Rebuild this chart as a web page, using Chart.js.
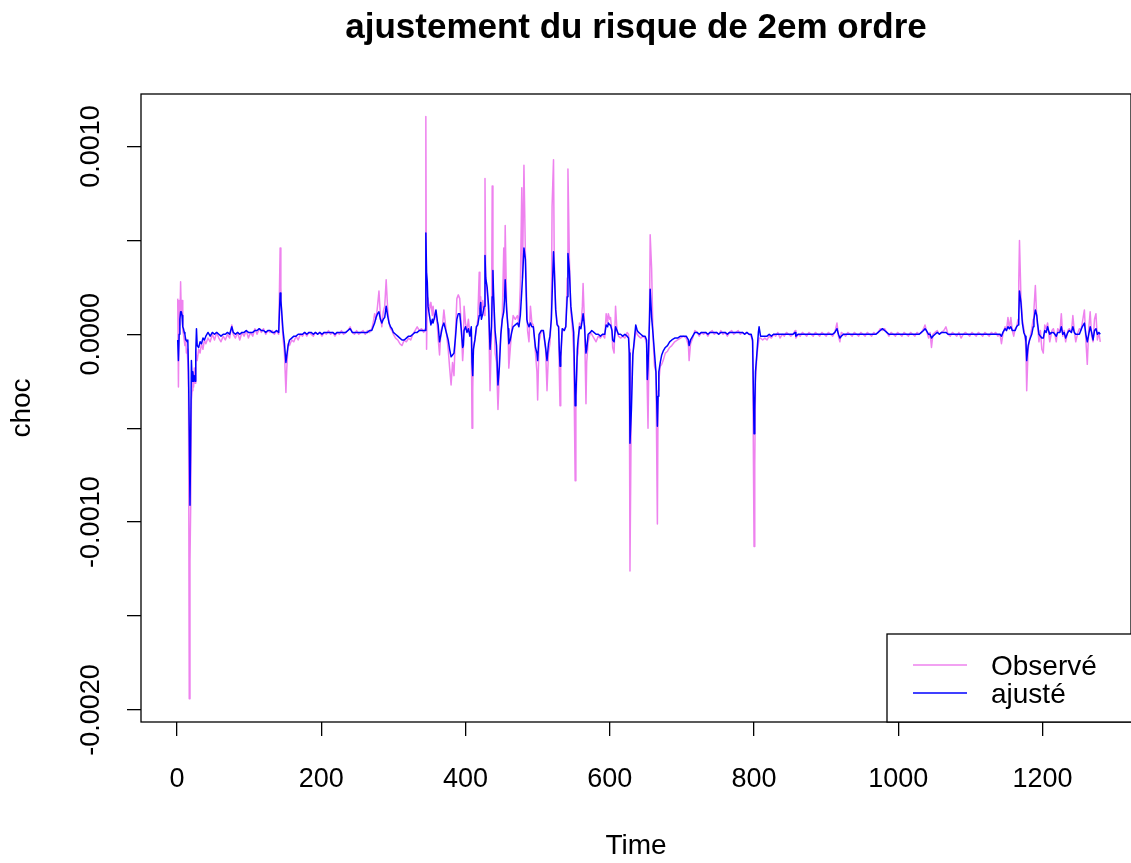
<!DOCTYPE html>
<html lang="fr">
<head>
  <meta charset="UTF-8">
  <title>ajustement du risque de 2em ordre</title>
  <script src="https://cdn.jsdelivr.net/npm/chart.js"></script>
  <style>
    html, body { margin: 0; padding: 0; background: #fff; }
    #wrap { width: 1131px; height: 863px; }
  </style>
</head>
<body>
  <div id="wrap"><canvas id="chart" width="1131" height="863"></canvas></div>

  <script>
    // Time index (sparse where the series is flat)
    const temps = [
      1, 2, 3, 4, 5, 6, 7, 8, 9, 10,
      11, 12, 13, 14, 15, 16, 17, 18, 19, 20,
      21, 22, 23, 24, 25, 26, 27, 28, 30, 32,
      34, 36, 38, 40, 43, 46, 49, 52, 55, 58,

      61, 64, 67, 70, 73, 76, 78, 81, 84, 87,
      90, 93, 96, 99, 102, 105, 108, 111, 114, 117,
      120, 123, 126, 129, 132, 135, 138, 141, 143, 144,
      145, 147, 149, 151, 152, 154, 156, 159, 162, 165,
      168, 171,

      174, 177, 180, 183, 186, 189, 192, 195, 198, 201,
      204, 207, 210, 213, 216, 219, 222, 225, 228, 231,
      234, 237, 240, 243, 246, 249, 252, 255, 258, 261,
      264, 267, 270, 272, 274, 276, 278, 280, 282, 284,
      286, 288, 290, 292, 294, 296, 298, 300, 303, 306,
      309, 312, 315, 318, 321, 324, 327, 330, 333, 336,
      339, 342, 344, 345, 346, 347, 348, 350, 352, 354,
      355, 357, 359, 361, 362, 364, 366, 368, 370, 372,
      374, 376, 378, 380, 382, 384, 386, 388, 390, 392,

      394, 396, 397, 398, 400, 402, 404, 406, 408, 409,
      410, 411, 413, 415, 417, 419, 420, 421, 422, 424,
      426, 427, 428, 430, 432, 434, 436, 437, 438, 439,
      441, 443, 445, 446, 447, 449, 451, 453, 454, 455,
      457, 459, 460, 462, 464, 466, 469, 472, 474, 476,
      478, 479, 481, 483, 485, 486, 488, 490, 492, 494,
      497, 499, 500, 502, 505, 508, 511, 513, 515, 517,
      519, 520, 522, 523, 525, 527, 529, 530, 531, 532,
      534, 537, 539, 541, 542, 544, 546, 548, 550, 552,
      553, 555, 556, 558, 560, 562, 563, 565, 567, 568,
      570, 573, 575, 578, 581, 584,

      587, 590, 593, 595, 597, 598, 600, 601, 603, 604,
      606, 608, 610, 612, 615, 618, 621, 624, 626, 627,
      628, 630, 632, 634, 636, 638, 640, 643, 646, 649,
      651, 652, 653, 655, 656, 658, 660, 662, 664, 666,
      667, 668, 670, 672, 674, 677, 680, 683, 686, 690,
      694, 698, 702, 706, 709, 710, 712, 715, 718, 721,
      724, 727, 730, 733, 736, 739, 742, 745, 748, 751,
      754, 757, 760, 763, 766, 769, 772, 775, 778, 781,
      784, 787, 790, 793, 796, 798, 800, 801, 802, 804,
      806, 807, 809, 812, 815, 818, 821,

      824, 827, 830, 833, 836, 839, 842, 845, 848, 851,
      854, 857, 858, 861, 864, 867, 870, 873, 876, 879,
      882, 885, 888, 891, 894, 897, 900, 903, 906, 909,
      912, 915, 917, 919, 921, 924, 927, 930, 933, 936,
      939, 942, 945, 948, 951, 954, 957, 960, 963, 966,
      969, 972, 975, 978, 981, 984, 987, 990, 993, 996,
      999, 1002, 1005, 1008, 1011, 1014, 1017, 1020, 1023, 1026,
      1029, 1032, 1035, 1037, 1039, 1042, 1044, 1046, 1048, 1051,
      1054, 1057, 1060, 1063, 1066, 1069, 1072, 1075, 1078, 1081,
      1084, 1087, 1090, 1093, 1096, 1099, 1102, 1105, 1108, 1111,
      1114, 1117, 1120, 1123, 1126, 1129, 1132, 1135, 1138, 1141,

      1143, 1145, 1148, 1150, 1152, 1154, 1156, 1158, 1160, 1162,
      1164, 1166, 1167, 1168, 1170, 1172, 1174, 1176, 1177, 1178,
      1180, 1182, 1185, 1187, 1188, 1190, 1192, 1193, 1195, 1197,
      1199, 1201, 1203, 1205, 1207, 1209, 1210, 1213, 1215, 1217,
      1219, 1221, 1224, 1226, 1228, 1230, 1232, 1235, 1237, 1240,
      1242, 1244, 1246, 1249, 1251, 1253, 1255, 1258, 1260, 1262,
      1264, 1266, 1268, 1270, 1272, 1274, 1276, 1278, 1280
    ];

    // Observé (choc)
    const observe = [
      19e-5, -28e-5, 18e-5, 5e-5, 28e-5, 10e-5, 18e-5, 2e-5, 0, -3e-5,
      -6e-5, -2e-5, -10e-5, -8e-5, -15e-5, -30e-5, -194e-5, -121e-5, -91e-5, -35e-5,
      -30e-5, -22e-5, -28e-5, -18e-5, -26e-5, -8e-5, -12e-5, -14e-5, -8e-5, -10e-5,
      -5e-5, -8e-5, -3e-5, -5e-5, -2e-5, -4e-5, 0, -3e-5, 1e-5, -2e-5,

      -4e-5, -1e-5, -3e-5, 0, -2e-5, 5e-5, 0, -2e-5, 1e-5, -3e-5,
      1e-5, -1e-5, 2e-5, -2e-5, 1e-5, -1e-5, 3e-5, 0, 3e-5, 1e-5,
      3e-5, 0, 2e-5, 1e-5, 2e-5, 0, 2e-5, 0, 46e-5, 25e-5,
      10e-5, -2e-5, -10e-5, -31e-5, -20e-5, -5e-5, -6e-5, -3e-5, -4e-5, -1e-5,
      -3e-5, 0,

      -1e-5, 1e-5, -1e-5, 1e-5, 0, -1e-5, 1e-5, 0, 1e-5, -1e-5,
      1e-5, 0, 2e-5, 0, 1e-5, -1e-5, 1e-5, 0, 2e-5, 0,
      1e-5, 2e-5, 4e-5, 1e-5, 0, 2e-5, 0, 1e-5, 2e-5, 0,
      2e-5, 1e-5, 3e-5, 6e-5, 11e-5, 8e-5, 15e-5, 23e-5, 10e-5, 4e-5,
      12e-5, 15e-5, 29e-5, 14e-5, 6e-5, 3e-5, 2e-5, 0, -2e-5, -3e-5,
      -5e-5, -6e-5, -3e-5, -4e-5, -2e-5, -3e-5, 0, 2e-5, 4e-5, 2e-5,
      3e-5, 1e-5, 3e-5, 116e-5, -8e-5, 20e-5, 19e-5, 13e-5, 17e-5, 10e-5,
      15e-5, 8e-5, 12e-5, 4e-5, -2e-5, -11e-5, 2e-5, 4e-5, 13e-5, 6e-5,
      -1e-5, -8e-5, -18e-5, -27e-5, -15e-5, -22e-5, 0, 19e-5, 21e-5, 19e-5,

      5e-5, -14e-5, -8e-5, 15e-5, 6e-5, 2e-5, 8e-5, 0, 3e-5, -50e-5,
      -30e-5, -6e-5, -3e-5, 2e-5, 8e-5, 33e-5, 15e-5, 20e-5, 12e-5, 18e-5,
      10e-5, 83e-5, 30e-5, 22e-5, 12e-5, -30e-5, 0, 79e-5, 30e-5, 18e-5,
      -10e-5, -15e-5, -40e-5, -30e-5, -12e-5, 0, 10e-5, 46e-5, 20e-5, 58e-5,
      15e-5, 2e-5, -18e-5, -8e-5, 2e-5, 10e-5, 8e-5, 10e-5, 6e-5, 26e-5,
      78e-5, 30e-5, 90e-5, 43e-5, 15e-5, 2e-5, -4e-5, 15e-5, 6e-5, 5e-5,
      -10e-5, -20e-5, -35e-5, -4e-5, 2e-5, 1e-5, -8e-5, -30e-5, -10e-5, -5e-5,
      10e-5, 68e-5, 93e-5, 40e-5, 14e-5, 6e-5, 4e-5, -20e-5, -38e-5, -15e-5,
      1e-5, 3e-5, 4e-5, 30e-5, 88e-5, 40e-5, 12e-5, 4e-5, -10e-5, -78e-5,
      -40e-5, -12e-5, -10e-5, 6e-5, 4e-5, 15e-5, 27e-5, 5e-5, -37e-5, -15e-5,
      -4e-5, 1e-5, 0, -2e-5, -4e-5, -1e-5,

      -2e-5, 0, -2e-5, 11e-5, 6e-5, 11e-5, 8e-5, 9e-5, 2e-5, -7e-5,
      -10e-5, 15e-5, 2e-5, -1e-5, -2e-5, -1e-5, -2e-5, 1e-5, 0, -8e-5,
      -126e-5, -30e-5, -10e-5, -5e-5, 2e-5, 0, -1e-5, -2e-5, -1e-5, -2e-5,
      -5e-5, -30e-5, -50e-5, 8e-5, 53e-5, 35e-5, -2e-5, -17e-5, -20e-5, -101e-5,
      -30e-5, -25e-5, -17e-5, -16e-5, -14e-5, -10e-5, -9e-5, -7e-5, -6e-5, -4e-5,
      -3e-5, -2e-5, -1e-5, -2e-5, -6e-5, -14e-5, -5e-5, -2e-5, 2e-5, 1e-5,
      -1e-5, 1e-5, 0, 1e-5, -1e-5, 1e-5, 2e-5, 0, 1e-5, 0,
      2e-5, 0, 1e-5, -1e-5, 1e-5, 2e-5, 0, 1e-5, 2e-5, 0,
      1e-5, 0, 1e-5, 0, -1e-5, -4e-5, -113e-5, -70e-5, -25e-5, -11e-5,
      -5e-5, -2e-5, -2e-5, -3e-5, -2e-5, -3e-5, -1e-5,

      -2e-5, 0, -1e-5, 1e-5, -2e-5, 0, -1e-5, 1e-5, 0, -1e-5,
      0, 2e-5, -2e-5, 0, -1e-5, 1e-5, 0, -1e-5, 1e-5, 0,
      -1e-5, 1e-5, 0, -1e-5, 1e-5, 0, -1e-5, 1e-5, 0, -1e-5,
      1e-5, 6e-5, -1e-5, -4e-5, 1e-5, 0, -1e-5, 1e-5, 0, -1e-5,
      1e-5, 0, -1e-5, 1e-5, 0, -1e-5, 1e-5, 0, -1e-5, 1e-5,
      0, 1e-5, 3e-5, 2e-5, 3e-5, 1e-5, -1e-5, 1e-5, 0, -1e-5,
      1e-5, 0, -1e-5, 1e-5, 0, -1e-5, 1e-5, 0, -1e-5, 1e-5,
      0, 1e-5, 3e-5, 5e-5, 2e-5, -2e-5, 1e-5, -7e-5, 0, 1e-5,
      2e-5, 0, 1e-5, 2e-5, 4e-5, 0, -1e-5, 1e-5, 0, -1e-5,
      1e-5, -2e-5, 0, 1e-5, 0, -1e-5, 1e-5, 0, -1e-5, 1e-5,
      0, -1e-5, 1e-5, 0, -1e-5, 1e-5, 0, 1e-5, -1e-5, 0,

      -5e-5, 0, 4e-5, 2e-5, 9e-5, 3e-5, 9e-5, 2e-5, -1e-5, 3e-5,
      4e-5, 8e-5, 28e-5, 50e-5, 20e-5, 8e-5, 3e-5, -2e-5, -10e-5, -30e-5,
      -8e-5, -3e-5, 3e-5, 8e-5, 13e-5, 26e-5, 8e-5, 5e-5, -4e-5, 2e-5,
      -8e-5, -10e-5, 5e-5, 3e-5, 6e-5, -1e-5, -4e-5, 2e-5, 3e-5, 0,
      -4e-5, 3e-5, 1e-5, 11e-5, -1e-5, 2e-5, -4e-5, 2e-5, 3e-5, 1e-5,
      10e-5, 2e-5, -4e-5, 1e-5, 3e-5, 2e-5, 6e-5, 13e-5, -3e-5, -16e-5,
      3e-5, 12e-5, -1e-5, -4e-5, 8e-5, 11e-5, -3e-5, 1e-5, -4e-5
    ];

    // ajusté (modèle)
    const ajuste = [
      -3e-5, -14e-5, 0, 8e-5, 12e-5, 12e-5, 10e-5, 4e-5, 3e-5, 1e-5,
      0, -3e-5, -3e-5, -4e-5, -3e-5, -20e-5, -52e-5, -91e-5, -55e-5, -14e-5,
      -25e-5, -20e-5, -25e-5, -22e-5, -25e-5, -10e-5, 3e-5, -6e-5, -7e-5, -4e-5,
      -5e-5, -2e-5, -3e-5, -1e-5, 1e-5, -1e-5, 1e-5, 0, 1e-5, 0,

      -1e-5, 0, 0, 1e-5, 0, 4e-5, 1e-5, 0, 1e-5, 0,
      1e-5, 1e-5, 2e-5, 1e-5, 1e-5, 1e-5, 2e-5, 2e-5, 3e-5, 2e-5,
      2e-5, 1e-5, 2e-5, 2e-5, 1e-5, 1e-5, 2e-5, 1e-5, 22e-5, 18e-5,
      13e-5, 2e-5, -5e-5, -15e-5, -12e-5, -6e-5, -3e-5, -2e-5, -1e-5, -1e-5,
      0, 0,

      0, 1e-5, 0, 1e-5, 1e-5, 0, 1e-5, 0, 1e-5, 0,
      1e-5, 1e-5, 1e-5, 1e-5, 1e-5, 0, 1e-5, 1e-5, 1e-5, 1e-5,
      1e-5, 2e-5, 3e-5, 1e-5, 1e-5, 1e-5, 1e-5, 1e-5, 1e-5, 1e-5,
      1e-5, 2e-5, 2e-5, 4e-5, 6e-5, 9e-5, 11e-5, 12e-5, 8e-5, 6e-5,
      8e-5, 9e-5, 15e-5, 10e-5, 6e-5, 4e-5, 3e-5, 1e-5, 0, -1e-5,
      -2e-5, -3e-5, -3e-5, -2e-5, -1e-5, -1e-5, 0, 1e-5, 1e-5, 2e-5,
      2e-5, 2e-5, 2e-5, 54e-5, 33e-5, 28e-5, 15e-5, 10e-5, 5e-5, 8e-5,
      6e-5, 9e-5, 13e-5, 7e-5, 5e-5, -4e-5, 0, 4e-5, 6e-5, 3e-5,
      0, -3e-5, -8e-5, -12e-5, -11e-5, -10e-5, -2e-5, 8e-5, 11e-5, 11e-5,

      3e-5, -7e-5, -6e-5, 2e-5, 4e-5, 1e-5, 3e-5, -1e-5, 4e-5, -15e-5,
      -22e-5, -8e-5, -3e-5, 4e-5, 5e-5, 10e-5, 14e-5, 17e-5, 8e-5, 11e-5,
      15e-5, 42e-5, 30e-5, 25e-5, 15e-5, -8e-5, 4e-5, 20e-5, 34e-5, 20e-5,
      2e-5, -6e-5, -27e-5, -22e-5, -17e-5, 0, 8e-5, 12e-5, 18e-5, 29e-5,
      13e-5, 3e-5, -5e-5, -3e-5, 1e-5, 4e-5, 5e-5, 6e-5, 4e-5, 10e-5,
      23e-5, 30e-5, 46e-5, 40e-5, 8e-5, 6e-5, 4e-5, 6e-5, 4e-5, 4e-5,
      -7e-5, -10e-5, -14e-5, 0, 2e-5, 2e-5, -7e-5, -14e-5, -5e-5, -1e-5,
      8e-5, 20e-5, 44e-5, 35e-5, 13e-5, 5e-5, 4e-5, -8e-5, -17e-5, -12e-5,
      3e-5, 2e-5, 4e-5, 20e-5, 43e-5, 34e-5, 15e-5, 8e-5, 1e-5, -38e-5,
      -33e-5, -8e-5, -3e-5, 4e-5, 3e-5, 8e-5, 11e-5, 4e-5, -10e-5, -8e-5,
      0, 1e-5, 2e-5, 1e-5, 0, 0,

      -1e-5, 0, 0, 5e-5, 4e-5, 6e-5, 5e-5, 5e-5, 2e-5, -3e-5,
      -4e-5, 4e-5, 2e-5, 0, 0, -1e-5, 0, -1e-5, -2e-5, -10e-5,
      -58e-5, -40e-5, -11e-5, -3e-5, 5e-5, 2e-5, 1e-5, 0, -1e-5, -1e-5,
      -3e-5, -24e-5, -17e-5, 7e-5, 24e-5, 9e-5, 0, -10e-5, -20e-5, -49e-5,
      -33e-5, -20e-5, -15e-5, -11e-5, -9e-5, -7e-5, -6e-5, -4e-5, -3e-5, -2e-5,
      -2e-5, -1e-5, -1e-5, -1e-5, -3e-5, -6e-5, -3e-5, -1e-5, 1e-5, 1e-5,
      0, 1e-5, 1e-5, 1e-5, 0, 1e-5, 1e-5, 1e-5, 1e-5, 0,
      1e-5, 1e-5, 1e-5, 0, 1e-5, 1e-5, 1e-5, 1e-5, 1e-5, 1e-5,
      1e-5, 0, 1e-5, 0, 0, -3e-5, -53e-5, -40e-5, -20e-5, -10e-5,
      1e-5, 4e-5, -1e-5, -1e-5, -1e-5, -1e-5, 0,

      -1e-5, 0, 0, 0, 0, 0, 0, 0, 0, 0,
      0, 1e-5, -1e-5, 0, 0, 0, 0, 0, 0, 0,
      0, 0, 0, 0, 0, 0, 0, 0, 0, 0,
      1e-5, 3e-5, 0, -2e-5, -1e-5, 0, 0, 0, 0, 0,
      0, 0, 0, 0, 0, 0, 0, 0, 0, 0,
      0, 1e-5, 2e-5, 3e-5, 2e-5, 1e-5, 0, 0, 0, 0,
      0, 0, 0, 0, 0, 0, 0, 0, 0, 0,
      0, 1e-5, 2e-5, 3e-5, 2e-5, 0, 0, -2e-5, -1e-5, 0,
      1e-5, 0, 1e-5, 1e-5, 1e-5, 0, 0, 0, 0, 0,
      0, 0, 0, 0, 0, 0, 0, 0, 0, 0,
      0, 0, 0, 0, 0, 0, 0, 0, 0, 0,

      -1e-5, 1e-5, 3e-5, 2e-5, 4e-5, 3e-5, 4e-5, 2e-5, 2e-5, 2e-5,
      4e-5, 5e-5, 10e-5, 23e-5, 17e-5, 6e-5, 1e-5, -1e-5, -4e-5, -14e-5,
      -6e-5, -3e-5, 0, 4e-5, 8e-5, 13e-5, 10e-5, 6e-5, 0, -1e-5,
      -2e-5, -2e-5, 2e-5, 1e-5, 4e-5, 1e-5, 0, 1e-5, 1e-5, 0,
      -1e-5, 1e-5, 1e-5, 4e-5, 0, 1e-5, -2e-5, 1e-5, 2e-5, 1e-5,
      4e-5, 1e-5, 0, 0, 0, 2e-5, 4e-5, 6e-5, 0, -4e-5,
      0, 4e-5, 1e-5, -3e-5, 2e-5, 3e-5, 0, 1e-5, 0
    ];

    const seriesNames = ['Observé', 'ajusté'];
    const seriesColors = ['#EE82EE', '#0000FF'];
    const xTicks = [0, 200, 400, 600, 800, 1000, 1200];
    const yTicks = [-0.002, -0.0015, -0.001, -0.0005, 0, 0.0005, 0.001];
    const yLabelled = [-0.002, -0.001, 0, 0.001];

    if (temps.length !== observe.length || temps.length !== ajuste.length) {
      console.error('length mismatch', temps.length, observe.length, ajuste.length);
    }

    const FONT = '"Liberation Sans", Arial, Helvetica, sans-serif';
    Chart.defaults.font.family = FONT;
    Chart.defaults.color = '#000';

    // box around the plot region
    const frame = {
      id: 'frame',
      afterDatasetsDraw(chart) {
        const { ctx, chartArea: a } = chart;
        ctx.save();
        ctx.strokeStyle = '#000';
        ctx.lineWidth = 1.3;
        ctx.strokeRect(a.left, a.top, a.right - a.left, a.bottom - a.top);
        ctx.restore();
      }
    };

    // y labels are drawn rotated, like R does
    const yLabels = {
      id: 'yLabels',
      afterDraw(chart) {
        const { ctx } = chart;
        const scale = chart.scales.y;
        ctx.save();
        ctx.font = '27px ' + FONT;
        ctx.fillStyle = '#000';
        ctx.textAlign = 'center';
        ctx.textBaseline = 'middle';
        for (const v of yLabelled) {
          const py = scale.getPixelForValue(v);
          ctx.save();
          ctx.translate(92, py);
          ctx.rotate(-Math.PI / 2);
          ctx.fillText(v.toFixed(4), 0, 0);
          ctx.restore();
        }
        ctx.restore();
      }
    };

    // legend box in the bottom right corner
    const rLegend = {
      id: 'rLegend',
      afterDraw(chart) {
        const { ctx, chartArea: a } = chart;
        const left = a.left + 746;
        const top = a.bottom - 88;
        ctx.save();
        ctx.fillStyle = '#fff';
        ctx.fillRect(left, top, a.right - left + 5, a.bottom - top);
        ctx.strokeStyle = '#000';
        ctx.lineWidth = 1.3;
        ctx.strokeRect(left, top, a.right - left + 10, a.bottom - top);
        chart.data.datasets.forEach((ds, i) => {
          const y = top + 31 + i * 28;
          ctx.strokeStyle = ds.borderColor;
          ctx.lineWidth = 1.5;
          ctx.beginPath();
          ctx.moveTo(left + 26, y);
          ctx.lineTo(left + 80, y);
          ctx.stroke();
          ctx.fillStyle = '#000';
          ctx.font = '28px ' + FONT;
          ctx.textAlign = 'left';
          ctx.textBaseline = 'middle';
          ctx.fillText(ds.label, left + 104, y + 2);
        });
        ctx.restore();
      }
    };

    function series(values) {
      return temps.map((t, i) => ({ x: t, y: values[i] }));
    }

    new Chart(document.getElementById('chart'), {
      type: 'line',
      data: {
        datasets: [
          {
            label: seriesNames[0],
            data: series(observe),
            borderColor: seriesColors[0],
            borderWidth: 1.5,
            borderJoinStyle: 'round',
            pointRadius: 0,
            tension: 0,
            order: 2
          },
          {
            label: seriesNames[1],
            data: series(ajuste),
            borderColor: seriesColors[1],
            borderWidth: 1.5,
            borderJoinStyle: 'round',
            pointRadius: 0,
            tension: 0,
            order: 1
          }
        ]
      },
      options: {
        responsive: false,
        animation: false,
        events: [],
        layout: { padding: 0 },
        plugins: {
          legend: { display: false },
          tooltip: { enabled: false },
          title: {
            display: true,
            text: 'ajustement du risque de 2em ordre',
            fullSize: false,
            color: '#000',
            font: { size: 35, weight: 'bold' },
            padding: { top: 7, bottom: 45 }
          }
        },
        scales: {
          x: {
            type: 'linear',
            min: -49.9,
            max: 1322.6,
            afterFit(scale) { scale.height = 141; },
            afterBuildTicks(scale) { scale.ticks = xTicks.map(v => ({ value: v })); },
            border: { display: false },
            grid: { drawOnChartArea: false, tickLength: 14, color: '#000', lineWidth: 1.3 },
            ticks: {
              font: { size: 27 },
              color: '#000',
              padding: 27,
              maxRotation: 0,
              autoSkip: false,
              callback: v => String(v)
            },
            title: {
              display: true,
              text: 'Time',
              color: '#000',
              font: { size: 28 },
              padding: { top: 0, bottom: 0 }
            }
          },
          y: {
            type: 'linear',
            min: -0.0020644,
            max: 0.0012796,
            afterFit(scale) { scale.width = 141; },
            afterBuildTicks(scale) { scale.ticks = yTicks.map(v => ({ value: v })); },
            border: { display: false },
            grid: { drawOnChartArea: false, tickLength: 14, color: '#000', lineWidth: 1.3 },
            ticks: { display: false },
            title: {
              display: true,
              text: 'choc',
              color: '#000',
              font: { size: 28 },
              padding: { top: 5, bottom: 0 }
            }
          }
        }
      },
      plugins: [frame, yLabels, rLegend]
    });
  </script>
</body>
</html>
